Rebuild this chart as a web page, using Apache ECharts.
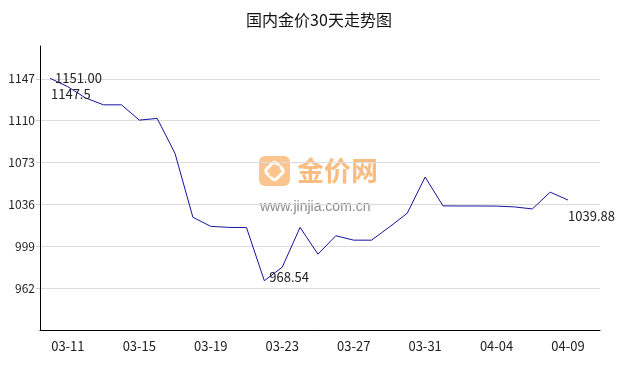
<!DOCTYPE html>
<html>
<head>
<meta charset="utf-8">
<title>国内金价30天走势图</title>
<script src="https://cdn.jsdelivr.net/npm/echarts@6/dist/echarts.min.js"></script>
<style>
  html, body { margin: 0; padding: 0; background: #fff; }
  #main { width: 638px; height: 370px; }
</style>
</head>
<body>
<div id="main"></div>
<script>
// 日期（30个交易日）
var dates = ['03-10', '03-11', '03-12', '03-13', '03-14', '03-15', '03-16', '03-17', '03-18', '03-19',
  '03-20', '03-21', '03-22', '03-23', '03-24', '03-25', '03-26', '03-27', '03-28', '03-29',
  '03-30', '03-31', '04-01', '04-02', '04-03', '04-04', '04-06', '04-07', '04-08', '04-09'];
// 金价（元/克）
var prices = [1147.5, 1140, 1130, 1124, 1124, 1110.5, 1112, 1081, 1024.6, 1016.6,
  1015.7, 1015.5, 968.54, 980.5, 1015.7, 992, 1008.3, 1004.4, 1004.4, 1016,
  1028.2, 1060.2, 1034.7, 1034.6, 1034.6, 1034.5, 1033.8, 1032, 1046.8, 1039.88];
// x轴显示的日期
var labelDates = ['03-11', '03-15', '03-19', '03-23', '03-27', '03-31', '04-04', '04-09'];
// 标注文字
var markTexts = ['1151.00', '1147.5', '968.54', '1039.88'];
var markIndex = [0, 0, 12, 29];

var labelIdx = labelDates.map(function (d) { return dates.indexOf(d); });
var seriesData = prices.map(function (v, i) { return [i, v]; });

// 标注位置（偏移）
var markPos = [
  { distance: 5, offset: [0, 0] },
  { distance: 0, offset: [1, 16] },
  { distance: 5, offset: [0, -4] },
  { distance: 0, offset: [0, 16] }
];
var markData = markTexts.map(function (t, k) {
  var i = markIndex[k];
  return {
    coord: [i, prices[i]],
    value: t,
    label: { position: 'right', distance: markPos[k].distance, offset: markPos[k].offset }
  };
});

var FONT = '"Noto Sans CJK SC", "Noto Sans", sans-serif';
var myChart = echarts.init(document.getElementById('main'));

var option = {
  animation: false,
  backgroundColor: '#fff',
  title: {
    text: '国内金价30天走势图',
    left: 'center',
    top: 12,
    padding: 0,
    textStyle: { fontSize: 16, fontWeight: 'normal', color: '#111', fontFamily: FONT }
  },
  grid: { left: 40, right: 38, top: 46, bottom: 40 },
  graphic: [{
    type: 'group',
    left: 259,
    top: 156,
    z: -10,
    silent: true,
    children: [
      { type: 'rect', shape: { x: 0, y: 0, width: 31, height: 30, r: 6 }, style: { fill: '#fcc48e' } },
      { type: 'rect', x: 15.5, y: 15, rotation: Math.PI / 4,
        shape: { x: -7, y: -7, width: 14, height: 14, r: 3 },
        style: { fill: 'none', stroke: '#fff', lineWidth: 3 } },
      { type: 'line', shape: { x1: 11, y1: 20, x2: 20, y2: 10 }, style: { stroke: '#fcc48e', lineWidth: 3 } },
      { type: 'text', x: 38, y: 15,
        style: { text: '金价网', fontSize: 27, fontWeight: 'bold', fill: '#f9bd82', fontFamily: FONT, verticalAlign: 'middle' } },
      { type: 'text', x: 1, y: 51,
        style: { text: 'www.jinjia.com.cn', fontSize: 14, fill: '#8c8c8c', fontFamily: 'Arial, "Liberation Sans", sans-serif', verticalAlign: 'middle' } }
    ]
  }],
  xAxis: {
    type: 'value',
    min: -0.56,
    max: 30.79,
    axisLine: { lineStyle: { color: '#000', width: 1 } },
    axisTick: { show: false },
    splitLine: { show: false },
    axisLabel: {
      customValues: labelIdx,
      formatter: function (v) { return dates[v]; },
      color: '#222',
      fontSize: 13,
      fontFamily: FONT,
      margin: 10
    }
  },
  yAxis: {
    type: 'value',
    min: 925,
    max: 1176,
    interval: 37,
    axisLine: { show: true, onZero: false, lineStyle: { color: '#000', width: 1 } },
    axisTick: { show: true, length: 4, lineStyle: { color: '#ccc' } },
    axisLabel: {
      showMinLabel: false,
      showMaxLabel: false,
      formatter: function (v) { return String(v); },
      color: '#222',
      fontSize: 12,
      fontFamily: FONT,
      margin: 5
    },
    splitLine: { showMinLine: false, showMaxLine: false, lineStyle: { color: '#dcdcdc', width: 1 } }
  },
  series: [{
    name: '金价',
    type: 'line',
    showSymbol: false,
    smooth: false,
    lineStyle: { color: '#14149e', width: 1 },
    itemStyle: { color: '#14149e' },
    data: seriesData,
    markPoint: {
      symbol: 'circle',
      symbolSize: 0,
      silent: true,
      label: { show: true, color: '#222', fontSize: 13, fontFamily: FONT, formatter: '{c}' },
      data: markData
    }
  }]
};
myChart.setOption(option);
</script>
</body>
</html>
